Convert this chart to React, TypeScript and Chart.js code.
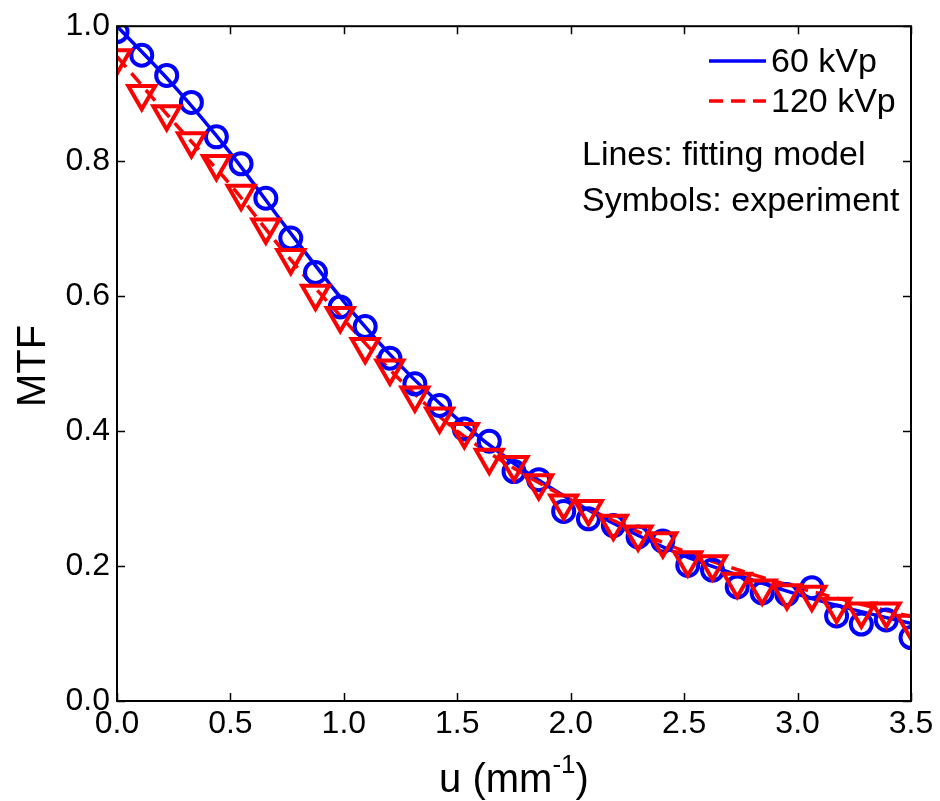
import React, { useEffect, useRef } from "react";
import { Chart, registerables } from "chart.js";

Chart.register(...registerables);

// Experimental sampling frequencies (mm^-1)
const uExp = [
  0, 0.109, 0.219, 0.328, 0.438, 0.547, 0.656, 0.766, 0.875, 0.984, 1.094,
  1.203, 1.313, 1.422, 1.531, 1.641, 1.75, 1.859, 1.969, 2.078, 2.188, 2.297,
  2.406, 2.516, 2.625, 2.734, 2.844, 2.953, 3.063, 3.172, 3.281, 3.391, 3.5,
];
// Measured MTF, 60 kVp (circles)
const mtf60 = [
  0.992, 0.957, 0.927, 0.887, 0.836, 0.796, 0.745, 0.686, 0.635, 0.584, 0.555,
  0.508, 0.47, 0.438, 0.403, 0.385, 0.34, 0.328, 0.281, 0.27, 0.26, 0.243,
  0.237, 0.201, 0.194, 0.169, 0.16, 0.158, 0.168, 0.126, 0.114, 0.12, 0.094,
];
// Measured MTF, 120 kVp (triangles)
const mtf120 = [
  0.953, 0.9, 0.87, 0.83, 0.796, 0.752, 0.702, 0.657, 0.604, 0.571, 0.525,
  0.493, 0.453, 0.422, 0.399, 0.361, 0.35, 0.323, 0.293, 0.285, 0.263, 0.247,
  0.237, 0.209, 0.203, 0.177, 0.167, 0.16, 0.158, 0.14, 0.133, 0.133, 0.115,
];
// Fitting model curves
const uFit = [0, 0.25, 0.5, 0.75, 1.0, 1.25, 1.5, 1.75, 2.0, 2.25, 2.5, 2.75, 3.0, 3.25, 3.5];
const fit60 = [1.0, 0.912, 0.812, 0.7, 0.592, 0.497, 0.418, 0.352, 0.298, 0.253, 0.215, 0.185, 0.158, 0.135, 0.115];
const fit120 = [0.955, 0.858, 0.765, 0.66, 0.565, 0.475, 0.4, 0.345, 0.298, 0.258, 0.222, 0.193, 0.168, 0.146, 0.125];

const xTicks = [0, 0.5, 1.0, 1.5, 2.0, 2.5, 3.0, 3.5];
const yTicks = [0, 0.2, 0.4, 0.6, 0.8, 1.0];

const legendLabels = ["60 kVp", "120 kVp"];
const noteLines = ["Lines: fitting model", "Symbols: experiment"];
const xTitleMain = "u (mm";
const xTitleSup = "-1";
const yTitle = "MTF";

const FONT = "'Liberation Sans', Arial, Helvetica, sans-serif";
const BLUE = "#0000ff";
const RED = "#ff0000";

const decorPlugin = {
  id: "decor",
  afterDraw(chart: any) {
    const { ctx, chartArea } = chart;
    const { left, right, top, bottom } = chartArea;
    const xs = chart.scales.x;
    const ys = chart.scales.y;
    ctx.save();
    // box
    ctx.strokeStyle = "#000";
    ctx.lineWidth = 2;
    ctx.strokeRect(left, top, right - left, bottom - top);
    // inward ticks
    const tl = 8;
    ctx.lineWidth = 1.5;
    ctx.beginPath();
    xTicks.forEach((v) => {
      const px = Math.round(xs.getPixelForValue(v)) + 0.5;
      ctx.moveTo(px, bottom);
      ctx.lineTo(px, bottom - tl);
      ctx.moveTo(px, top);
      ctx.lineTo(px, top + tl);
    });
    yTicks.forEach((v) => {
      const py = Math.round(ys.getPixelForValue(v)) + 0.5;
      ctx.moveTo(left, py);
      ctx.lineTo(left + tl, py);
      ctx.moveTo(right, py);
      ctx.lineTo(right - tl, py);
    });
    ctx.stroke();

    // y title
    ctx.fillStyle = "#000";
    ctx.font = `40px ${FONT}`;
    ctx.textAlign = "center";
    ctx.textBaseline = "alphabetic";
    ctx.save();
    ctx.translate(45, 366);
    ctx.rotate(-Math.PI / 2);
    ctx.fillText(yTitle, 0, 0);
    ctx.restore();

    // x title with superscript
    const mainFont = `40px ${FONT}`;
    const supFont = `26px ${FONT}`;
    ctx.textBaseline = "alphabetic";
    ctx.textAlign = "left";
    ctx.font = mainFont;
    const w1 = ctx.measureText(xTitleMain).width;
    const w3 = ctx.measureText(")").width;
    ctx.font = supFont;
    const w2 = ctx.measureText(xTitleSup).width;
    const total = w1 + w2 + w3;
    const x0 = (left + right) / 2 - total / 2;
    const base = 792;
    ctx.font = mainFont;
    ctx.fillText(xTitleMain, x0, base);
    ctx.font = supFont;
    ctx.fillText(xTitleSup, x0 + w1, base - 19);
    ctx.font = mainFont;
    ctx.fillText(")", x0 + w1 + w2, base);

    // legend
    ctx.lineWidth = 3.5;
    ctx.strokeStyle = BLUE;
    ctx.setLineDash([]);
    ctx.beginPath();
    ctx.moveTo(709, 61);
    ctx.lineTo(766, 61);
    ctx.stroke();
    ctx.strokeStyle = RED;
    ctx.setLineDash([14, 8]);
    ctx.beginPath();
    ctx.moveTo(709, 101);
    ctx.lineTo(766, 101);
    ctx.stroke();
    ctx.setLineDash([]);
    ctx.font = `34px ${FONT}`;
    ctx.fillStyle = "#000";
    ctx.textBaseline = "alphabetic";
    ctx.fillText(legendLabels[0], 771, 72);
    ctx.fillText(legendLabels[1], 771, 112);
    ctx.fillText(noteLines[0], 582, 165);
    ctx.fillText(noteLines[1], 582, 211);
    ctx.restore();
  },
};

export default function App() {
  const ref = useRef<HTMLCanvasElement | null>(null);
  useEffect(() => {
    if (!ref.current) return;
    const chart = new Chart(ref.current, {
      type: "line",
      data: {
        datasets: [
          {
            label: "120 kVp exp",
            data: uExp.map((u, i) => ({ x: u, y: mtf120[i] })),
            showLine: false,
            pointStyle: "triangle",
            rotation: 180,
            pointRadius: 15.5,
            pointBorderWidth: 4,
            pointBorderColor: RED,
            pointBackgroundColor: "rgba(0,0,0,0)",
            borderColor: RED,
            order: 0,
          },
          {
            label: "60 kVp exp",
            data: uExp.map((u, i) => ({ x: u, y: mtf60[i] })),
            showLine: false,
            pointStyle: "circle",
            pointRadius: 10.5,
            pointBorderWidth: 4,
            pointBorderColor: BLUE,
            pointBackgroundColor: "rgba(0,0,0,0)",
            borderColor: BLUE,
            order: 1,
          },
          {
            label: "120 kVp",
            data: uFit.map((u, i) => ({ x: u, y: fit120[i] })),
            borderColor: RED,
            borderWidth: 3.5,
            borderDash: [14, 8],
            pointRadius: 0,
            cubicInterpolationMode: "monotone",
            fill: false,
            order: 2,
          },
          {
            label: "60 kVp",
            data: uFit.map((u, i) => ({ x: u, y: fit60[i] })),
            borderColor: BLUE,
            borderWidth: 3.5,
            pointRadius: 0,
            cubicInterpolationMode: "monotone",
            fill: false,
            order: 3,
          },
        ],
      },
      options: {
        animation: false,
        responsive: false,
        layout: { padding: { left: 0, right: 29, top: 25, bottom: 0 } },
        plugins: { legend: { display: false }, tooltip: { enabled: false } },
        scales: {
          x: {
            type: "linear",
            min: 0,
            max: 3.5,
            grid: { display: false, drawTicks: false },
            border: { display: false },
            afterBuildTicks: (s: any) => {
              s.ticks = xTicks.map((v) => ({ value: v }));
            },
            afterFit: (s: any) => {
              s.height = 100;
            },
            ticks: {
              color: "#000",
              font: { family: FONT, size: 32 },
              padding: 4,
              maxRotation: 0,
              autoSkip: false,
              callback: (v: any) => Number(v).toFixed(1),
            },
          },
          y: {
            type: "linear",
            min: 0,
            max: 1,
            grid: { display: false, drawTicks: false },
            border: { display: false },
            afterBuildTicks: (s: any) => {
              s.ticks = yTicks.map((v) => ({ value: v }));
            },
            afterFit: (s: any) => {
              s.width = 117;
            },
            ticks: {
              color: "#000",
              font: { family: FONT, size: 32 },
              padding: 7,
              autoSkip: false,
              callback: (v: any) => Number(v).toFixed(1),
            },
          },
        },
      },
      plugins: [decorPlugin],
    } as any);
    return () => chart.destroy();
  }, []);
  return (
    <div style={{ position: "fixed", left: 0, top: 0, width: 940, height: 801, background: "#fff" }}>
      <canvas ref={ref} width={940} height={801} style={{ width: 940, height: 801 }} />
    </div>
  );
}
